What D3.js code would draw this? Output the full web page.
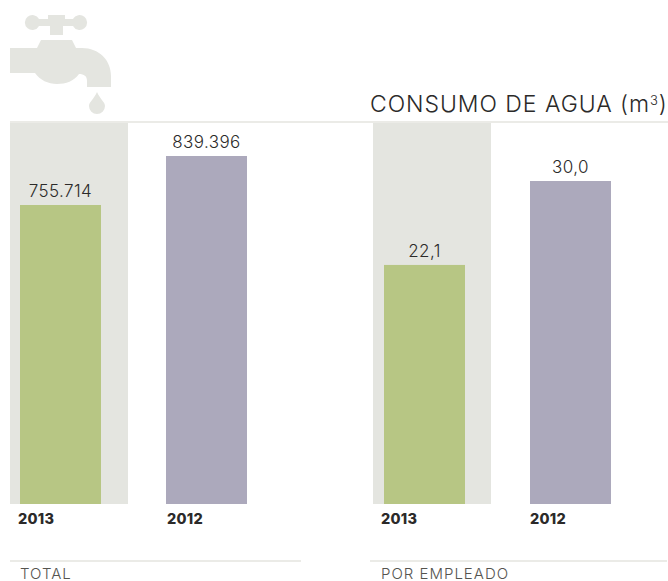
<!DOCTYPE html>
<html>
<head>
<meta charset="utf-8">
<script src="https://d3js.org/d3.v7.min.js"></script>
<style>
  html, body { margin: 0; padding: 0; background: #fff; }
  svg { display: block; }
  text { font-family: Inter, "Open Sans", sans-serif; }
</style>
</head>
<body>
<div class="canvas"></div>
<script>
// data
const years = ['2013', '2012'];
const totalValues = [755714, 839396];
const totalLabels = ['755.714', '839.396'];
const perEmployeeValues = [22.1, 30.0];
const perEmployeeLabels = ['22,1', '30,0'];
// the original charts do not start at zero, bar heights imply about these bases
const totalBase = 245000;
const perEmployeeBase = -0.4;

const colors = { 2013: '#b7c684', 2012: '#aca9bc' };
const panelColor = '#e4e5e0';
const ruleColor = '#ebebe7';
const textColor = '#2b2a29';

const svg = d3.select('.canvas')
  .append('svg')
  .attr('width', 668)
  .attr('height', 581);

const baseline = 504;

// faucet icon
const icon = svg.append('g').attr('fill', panelColor);
icon.append('path')
  .attr('d', 'M10 48 H37 L41 40 H72 L76 48 H82 C99 48 111 60 111 76 V87 H87 V81 C87 76 84 74 79 74 C74 81 66 84 57 84 C48 84 40 80 35 73 H10 Z');
icon.append('path')
  .attr('d', 'M50 35 V26 H39 A7.5 7.5 0 1 1 39 19 H48 V15 H65 V19 H73 A7.5 7.5 0 1 1 73 26 H63 V35 Z');
icon.append('path')
  .attr('d', 'M97 92 C100 99 105 102 105 106 A8 8 0 0 1 89 106 C89 102 94 99 97 92 Z');

// top rule
svg.append('rect')
  .attr('x', 10).attr('y', 121)
  .attr('width', 658).attr('height', 2)
  .attr('fill', ruleColor);

svg.append('text')
  .attr('x', 370)
  .attr('y', 112)
  .attr('font-size', 23)
  .attr('font-weight', 300)
  .attr('letter-spacing', 0.95)
  .attr('fill', textColor)
  .call(t => {
    t.append('tspan').text('CONSUMO DE AGUA (m');
    t.append('tspan').attr('font-size', 13).attr('dy', -7).text('3');
    t.append('tspan').attr('dy', 7).text(')');
  });

const drawGroup = (opts) => {
  const g = svg.append('g').attr('transform', `translate(${opts.left}, 0)`);

  const x = d3.scaleOrdinal().domain(years).range(opts.barX);
  const labelX = d3.scaleOrdinal().domain(years).range([8, 157]);
  const y = d3.scaleLinear()
    .domain(opts.domain)
    .range([baseline, opts.top]);
  const barWidth = 81;
  const rows = years.map((year, i) => ({ year, value: opts.values[i], label: opts.labels[i] }));

  // shaded panel behind current year
  g.append('rect')
    .attr('x', 0).attr('y', 123)
    .attr('width', 118).attr('height', baseline - 123)
    .attr('fill', panelColor);

  g.selectAll('.bar')
    .data(rows)
    .enter()
    .append('rect')
    .attr('class', 'bar')
    .attr('x', d => x(d.year))
    .attr('y', d => y(d.value))
    .attr('width', barWidth)
    .attr('height', d => baseline - y(d.value))
    .attr('fill', d => colors[d.year]);

  g.selectAll('.value')
    .data(rows)
    .enter()
    .append('text')
    .attr('class', 'value')
    .attr('x', d => x(d.year) + barWidth / 2)
    .attr('y', d => y(d.value) - 8)
    .attr('text-anchor', 'middle')
    .attr('font-size', 17)
    .attr('font-weight', 300)
    .attr('letter-spacing', 0.4)
    .attr('fill', textColor)
    .text(d => d.label);

  g.selectAll('.year')
    .data(rows)
    .enter()
    .append('text')
    .attr('class', 'year')
    .attr('x', d => labelX(d.year))
    .attr('y', 524)
    .attr('font-size', 14.5)
    .attr('font-weight', 800)
    .attr('letter-spacing', 0.25)
    .attr('fill', textColor)
    .text(d => d.year);
};

drawGroup({ left: 10, top: 156, barX: [10, 156], domain: [totalBase, 839396], values: totalValues, labels: totalLabels });
drawGroup({ left: 373, top: 181, barX: [11, 157], domain: [perEmployeeBase, 30], values: perEmployeeValues, labels: perEmployeeLabels });

// bottom rules and captions
const captions = [
  { text: 'TOTAL', rule: [10, 301], x: 20 },
  { text: 'POR EMPLEADO', rule: [370, 667], x: 381 }
];
captions.forEach(c => {
  svg.append('rect')
    .attr('x', c.rule[0]).attr('y', 560)
    .attr('width', c.rule[1] - c.rule[0]).attr('height', 2)
    .attr('fill', ruleColor);
  svg.append('text')
    .attr('x', c.x)
    .attr('y', 579)
    .attr('font-size', 15)
    .attr('font-weight', 300)
    .attr('letter-spacing', 1)
    .attr('fill', '#55544f')
    .text(c.text);
});
</script>
</body>
</html>
